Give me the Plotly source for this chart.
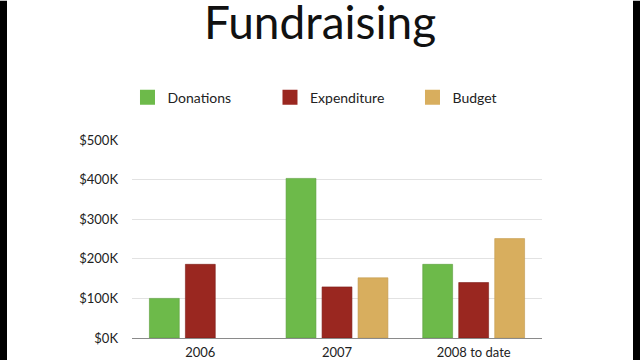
import plotly.graph_objects as go

categories = ["2006", "2007", "2008 to date"]
donations = [100000, 403000, 186000]
expenditure = [186000, 129000, 140000]
budget = [None, 152000, 251000]

series_names = ["Donations", "Expenditure", "Budget"]
series_colors = ["#6dba4a", "#9a2720", "#d8ae5e"]
line_colors = ["#5a9e3c", "#7e1d18", "#c29a4e"]
tick_vals = [0, 100000, 200000, 300000, 400000, 500000]
tick_text = ["$0K", "$100K", "$200K", "$300K", "$400K", "$500K"]

W, H = 640, 360
L, R, T, B = 132, 98, 139.5, 22
pw = W - L - R
ph = H - T - B

fig = go.Figure()
for name, vals, col, lc in zip(series_names, [donations, expenditure, budget], series_colors, line_colors):
    fig.add_trace(go.Bar(
        x=categories, y=vals, name=name,
        marker=dict(color=col, line=dict(color=lc, width=0.6)),
        showlegend=False,
    ))
    fig.add_trace(go.Scatter(
        x=[None], y=[None], mode="markers", name=name,
        marker=dict(symbol="square", size=15, color=col, line=dict(width=0)),
        showlegend=True,
    ))

# black side borders
shapes = [
    dict(type="rect", xref="paper", yref="paper",
         x0=-L / pw, x1=(7 - L) / pw, y0=-B / ph, y1=(H - B) / ph,
         fillcolor="black", line=dict(width=0), layer="above"),
    dict(type="rect", xref="paper", yref="paper",
         x0=(633 - L) / pw, x1=(W - L) / pw, y0=-B / ph, y1=(H - B) / ph,
         fillcolor="black", line=dict(width=0), layer="above"),
]

fig.update_layout(
    width=W, height=H,
    margin=dict(l=L, r=R, t=T, b=B, pad=0, autoexpand=False),
    paper_bgcolor="white", plot_bgcolor="white",
    font=dict(family="Lato", color="#222222"),
    barmode="group", bargap=0.21, bargroupgap=0.17,
    title=dict(text="Fundraising", x=0.5, xref="container", xanchor="center",
               y=(H - 23) / H, yanchor="middle", automargin=False,
               font=dict(family="Lato", size=46, color="#111111")),
    legend=dict(orientation="h", x=-0.011, xanchor="left", y=(338 - 97) / ph, yanchor="middle",
                font=dict(size=14, color="#222222"), entrywidth=97.5, entrywidthmode="pixels",
                bgcolor="rgba(0,0,0,0)"),
    shapes=shapes,
    xaxis=dict(showgrid=False, showline=True, linecolor="#8a8a8a", linewidth=1.2,
               ticks="", tickfont=dict(size=13, color="#222222"), fixedrange=True,
               automargin=False, ticklabelstandoff=2),
    yaxis=dict(range=[0, 500000], tickvals=tick_vals, ticktext=tick_text,
               showgrid=True, gridcolor="#e2e2e2", gridwidth=1.2, zeroline=False,
               showline=False, ticks="", ticklabelstandoff=13, automargin=False,
               tickfont=dict(size=13, color="#222222")),
)

fig.write_html("out.html")
